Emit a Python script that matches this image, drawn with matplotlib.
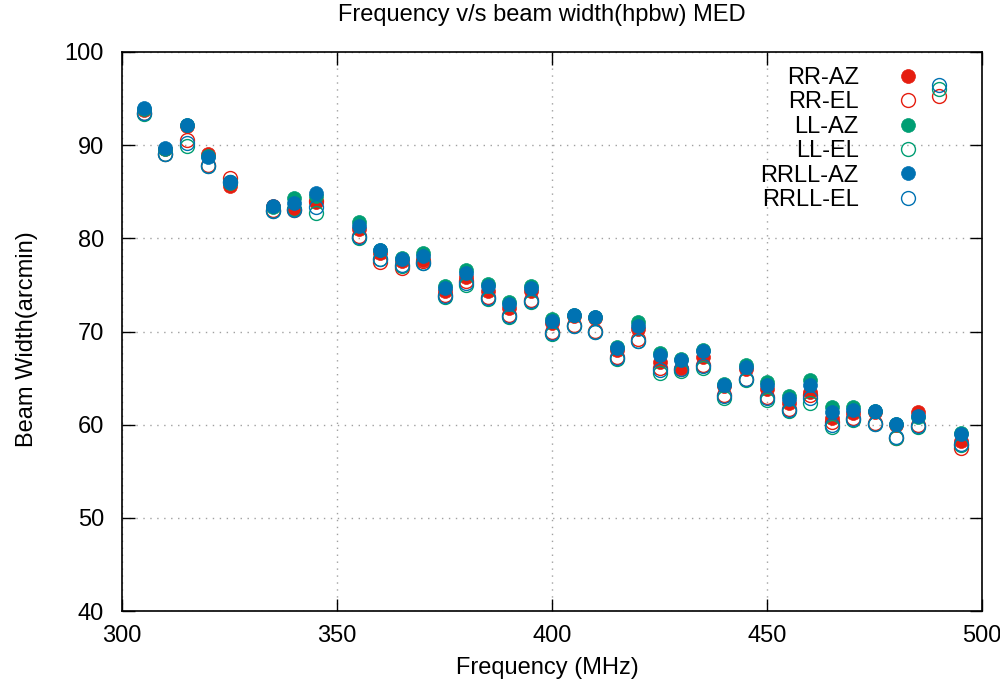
import matplotlib
matplotlib.use("Agg")
import matplotlib.pyplot as plt
from matplotlib.ticker import MultipleLocator

plt.rcParams['font.family'] = ['Liberation Sans', 'DejaVu Sans']

freq_az = [305, 310, 315, 320, 325, 335, 340, 345, 355, 360, 365, 370, 375, 380, 385,
           390, 395, 400, 405, 410, 415, 420, 425, 430, 435, 440, 445, 450, 455, 460,
           465, 470, 475, 480, 485, 495]
freq_el = [305, 310, 315, 320, 325, 335, 340, 345, 355, 360, 365, 370, 375, 380, 385,
           390, 395, 400, 405, 410, 415, 420, 425, 430, 435, 440, 445, 450, 455, 460,
           465, 470, 475, 480, 485, 490, 495]

rr_az = [93.8, 89.6, 92.1, 89.0, 85.6, 83.5, 83.1, 83.9, 81.0, 78.4, 77.6, 77.7, 74.3, 75.9, 74.4,
         72.5, 74.3, 70.9, 71.7, 71.5, 68.0, 70.3, 66.7, 66.1, 67.3, 64.2, 66.0, 63.8, 62.3, 63.5,
         60.7, 61.3, 61.4, 60.0, 61.4, 58.3]
rr_el = [93.5, 89.1, 90.55, 87.9, 86.5, 83.0, 83.0, 84.0, 80.2, 77.5, 76.8, 77.6, 73.9, 75.4, 73.7,
         71.8, 73.4, 70.0, 70.7, 70.1, 67.3, 69.2, 66.1, 66.0, 66.4, 63.2, 64.9, 63.0, 61.7, 63.2,
         60.3, 60.7, 60.2, 58.6, 60.0, 95.3, 57.5]
ll_az = [93.9, 89.6, 92.2, 88.8, 85.9, 83.4, 84.3, 84.5, 81.7, 78.8, 77.9, 78.4, 74.9, 76.6, 75.1,
         73.2, 74.9, 71.3, 71.8, 71.6, 68.3, 71.0, 67.7, 67.1, 68.0, 64.4, 66.4, 64.6, 63.1, 64.8,
         61.9, 61.9, 61.5, 60.1, 60.8, 59.1]
ll_el = [93.3, 89.0, 89.9, 87.8, 86.0, 82.9, 83.1, 82.7, 80.0, 77.8, 77.0, 77.3, 73.7, 75.0, 73.5,
         71.6, 73.2, 69.7, 70.6, 70.0, 67.0, 69.0, 65.5, 65.8, 66.1, 62.9, 64.8, 62.7, 61.5, 62.3,
         59.8, 60.5, 60.1, 58.6, 59.8, 96.0, 57.8]
rrll_az = [94.0, 89.7, 92.2, 88.7, 86.0, 83.5, 83.8, 84.9, 81.3, 78.75, 77.8, 78.1, 74.7, 76.3, 74.9,
           73.0, 74.7, 71.1, 71.8, 71.6, 68.2, 70.6, 67.5, 66.9, 67.9, 64.3, 66.2, 64.3, 62.8, 64.3,
           61.4, 61.6, 61.5, 60.1, 60.9, 59.0]
rrll_el = [93.4, 89.05, 90.2, 87.8, 86.0, 82.9, 83.0, 83.4, 80.1, 77.8, 77.1, 77.3, 73.8, 75.2, 73.6,
           71.7, 73.3, 69.85, 70.6, 70.0, 67.2, 69.0, 65.9, 66.0, 66.3, 63.1, 64.9, 62.9, 61.6, 62.9,
           60.0, 60.6, 60.1, 58.7, 59.9, 96.5, 57.9]

labels = ['RR-AZ', 'RR-EL', 'LL-AZ', 'LL-EL', 'RRLL-AZ', 'RRLL-EL']
red, green, blue = '#e51e10', '#009e73', '#0072b2'

W, H = 1000, 692
fig = plt.figure(figsize=(W / 100, H / 100), dpi=100)
ax = fig.add_axes([122 / W, 1 - 611 / H, 860 / W, 559 / H])

ms = 10
series = [
    (freq_az, rr_az, red, True),
    (freq_el, rr_el, red, False),
    (freq_az, ll_az, green, True),
    (freq_el, ll_el, green, False),
    (freq_az, rrll_az, blue, True),
    (freq_el, rrll_el, blue, False),
]
for (x, y, c, filled), lab in zip(series, labels):
    if filled:
        ax.plot(x, y, 'o', color=c, markersize=ms, markeredgewidth=0.5, linestyle='none', label=lab)
    else:
        ax.plot(x, y, 'o', markerfacecolor='none', markeredgecolor=c, markersize=ms,
                markeredgewidth=1.0, linestyle='none', label=lab)

ax.set_xlim(300, 500)
ax.set_ylim(40, 100)
ax.xaxis.set_major_locator(MultipleLocator(50))
ax.yaxis.set_major_locator(MultipleLocator(10))
ax.grid(True, linestyle=(0, (1, 4)), color='#a0a0a0', linewidth=1.0)
ax.tick_params(direction='in', top=True, right=True, length=9, width=1, labelsize=17)
ax.tick_params(axis='x', pad=10)
ax.tick_params(axis='y', pad=13)
for s in ax.spines.values():
    s.set_linewidth(1.2)

fig.text(542 / W, 1 - 15 / H, 'Frequency v/s beam width(hpbw) MED', fontsize=17,
         ha='center', va='center')
fig.text(547 / W, 1 - 668 / H, 'Frequency (MHz)', fontsize=17, ha='center', va='center')
fig.text(27 / W, 1 - 339 / H, 'Beam Width(arcmin)', fontsize=17, ha='center', va='center',
         rotation=90)

leg = ax.legend(loc='upper right', bbox_to_anchor=(0.928, 0.973), markerfirst=False, frameon=False,
                fontsize=17, handletextpad=1.6, labelspacing=0.1, borderaxespad=0.0,
                borderpad=0.0, handlelength=1.0)
for t in leg.get_texts():
    t.set_ha('right')

fig.savefig('out.png', dpi=100)
